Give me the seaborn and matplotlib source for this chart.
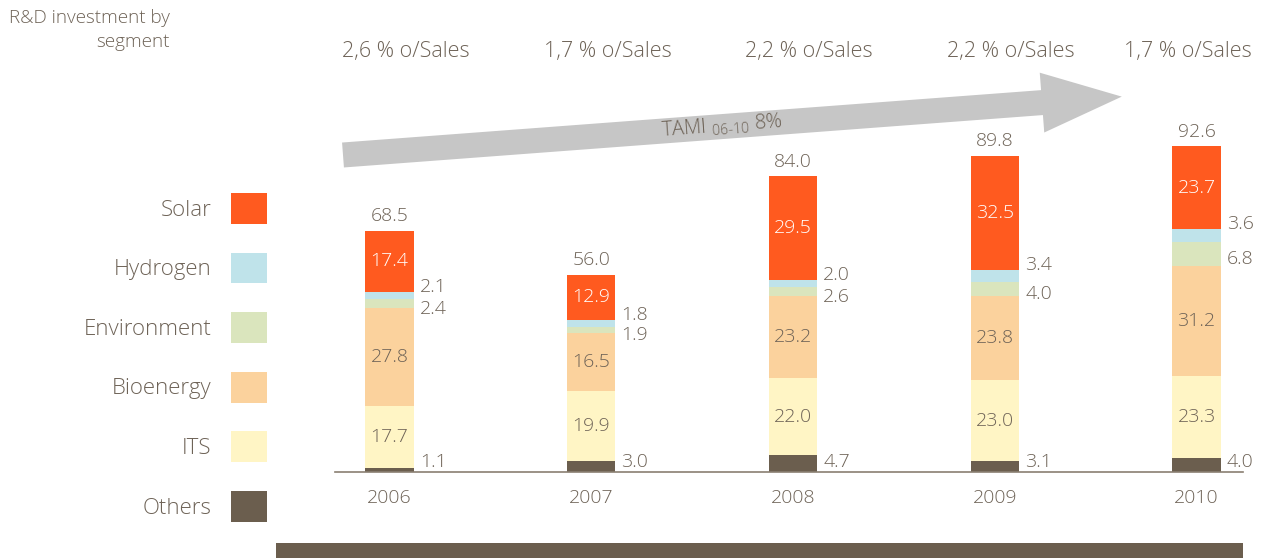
import matplotlib
matplotlib.use("Agg")
import matplotlib.pyplot as plt
import seaborn as sns
import numpy as np
from matplotlib.patches import FancyArrow, Rectangle, Patch

# data
years = ['2006', '2007', '2008', '2009', '2010']
others = [1.1, 3.0, 4.7, 3.1, 4.0]
its = [17.7, 19.9, 22.0, 23.0, 23.3]
bioenergy = [27.8, 16.5, 23.2, 23.8, 31.2]
environment = [2.4, 1.9, 2.6, 4.0, 6.8]
hydrogen = [2.1, 1.8, 2.0, 3.4, 3.6]
solar = [17.4, 12.9, 29.5, 32.5, 23.7]
totals = [68.5, 56.0, 84.0, 89.8, 92.6]
sales = ['2,6 % o/Sales', '1,7 % o/Sales', '2,2 % o/Sales', '2,2 % o/Sales', '1,7 % o/Sales']

segments = ['Others', 'ITS', 'Bioenergy', 'Environment', 'Hydrogen', 'Solar']
values = [others, its, bioenergy, environment, hydrogen, solar]
colors = ['#6b5e4e', '#fff5c5', '#fbd29d', '#dae5bd', '#bfe3ea', '#ff5a1f']

TXT = '#6e6357'

sns.set_theme(style="white")
plt.rcParams['font.family'] = ['Open Sans', 'DejaVu Sans']
plt.rcParams['font.weight'] = 'light'

W, H = 12.68, 5.58
fig = plt.figure(figsize=(W, H), dpi=100)
ax = fig.add_axes([335 / 1268, (558 - 472) / 558, (1243 - 335) / 1268, 472 / 558])

x = np.arange(len(years))
bw = 0.24
bottom = np.zeros(len(years))
for seg, vals, c in zip(segments, values, colors):
    ax.bar(x, vals, bottom=bottom, width=bw, color=c, linewidth=0, label=seg)
    bottom = bottom + np.array(vals)

ax.set_xlim(-0.27, 4.23)
ax.set_ylim(0, 134)
for s in ['top', 'right', 'left']:
    ax.spines[s].set_visible(False)
ax.spines['bottom'].set_color('#8a7f72')
ax.spines['bottom'].set_linewidth(1.2)
ax.set_yticks([])
ax.set_xticks(x)
ax.set_xticklabels(years, fontsize=14, color=TXT)
ax.tick_params(axis='x', length=0, pad=12)

fs = 14
for i in range(len(years)):
    b = 0.0
    cum = []
    for vals in values:
        cum.append(b)
        b += vals[i]
    # inside labels: ITS, Bioenergy, Solar
    ax.text(x[i], cum[1] + its[i] / 2, f'{its[i]:.1f}', ha='center', va='center', fontsize=fs, color=TXT)
    ax.text(x[i], cum[2] + bioenergy[i] / 2, f'{bioenergy[i]:.1f}', ha='center', va='center', fontsize=fs, color=TXT)
    ax.text(x[i], cum[5] + solar[i] / 2, f'{solar[i]:.1f}', ha='center', va='center', fontsize=fs, color='white')
    # outside labels
    xr = x[i] + bw / 2 + 0.03
    ax.text(xr, 0.3, f'{others[i]:.1f}', ha='left', va='bottom', fontsize=fs, color=TXT)
    ax.text(xr, cum[3] + environment[i] / 2 - 1.5, f'{environment[i]:.1f}', ha='left', va='center', fontsize=fs, color=TXT)
    ax.text(xr, cum[4] + hydrogen[i] + 1.5, f'{hydrogen[i]:.1f}', ha='left', va='center', fontsize=fs, color=TXT)
    # total
    ax.text(x[i], totals[i] + 1.5, f'{totals[i]:.1f}', ha='center', va='bottom', fontsize=fs, color=TXT)
    # sales ratio
    if i == len(years) - 1:
        sx, sha = 4.275, 'right'
    else:
        sx, sha = x[i] + 0.08, 'center'
    ax.text(sx, 1 - 52 / 472, sales[i], transform=ax.get_xaxis_transform(), ha=sha, va='center',
            fontsize=15.5, color=TXT)

# growth arrow
arrow = FancyArrow(3.43, H - 1.55, 7.74 - 0.75, 0.58 - 0.056, width=0.25, head_width=0.6,
                   head_length=0.8, length_includes_head=False, color='#c6c6c6', linewidth=0,
                   transform=fig.dpi_scale_trans)
fig.add_artist(arrow)
fig.text(722 / 1268, 1 - 126 / 558, r'TAMI $_{\mathregular{06\text{-}10}}$ 8%', rotation=4.3,
         ha='center', va='center', fontsize=14.5, color=TXT, rotation_mode='anchor')

# title
fig.text(170 / 1268, 1 - 30 / 558, 'R&D investment by\nsegment', ha='right', va='center',
         fontsize=13.6, color=TXT, linespacing=1.4)

# legend
handles = [Patch(facecolor=c, edgecolor='none') for c in colors][::-1]
labels = segments[::-1]
leg = fig.legend(handles, labels, loc='upper left', bbox_to_anchor=(0.05, 1 - 173 / 558),
                 markerfirst=False, frameon=False, fontsize=16, handlelength=1.6, handleheight=1.75,
                 labelspacing=1.3, handletextpad=0.9, alignment='right')
for t in leg.get_texts():
    t.set_color(TXT)
    t.set_ha('right')

# bottom band
fig.add_artist(Rectangle((276 / 1268, 0), (1243 - 276) / 1268, 15 / 558, transform=fig.transFigure,
                         color='#6b5e4e', linewidth=0))

fig.savefig('out.png', dpi=100)
